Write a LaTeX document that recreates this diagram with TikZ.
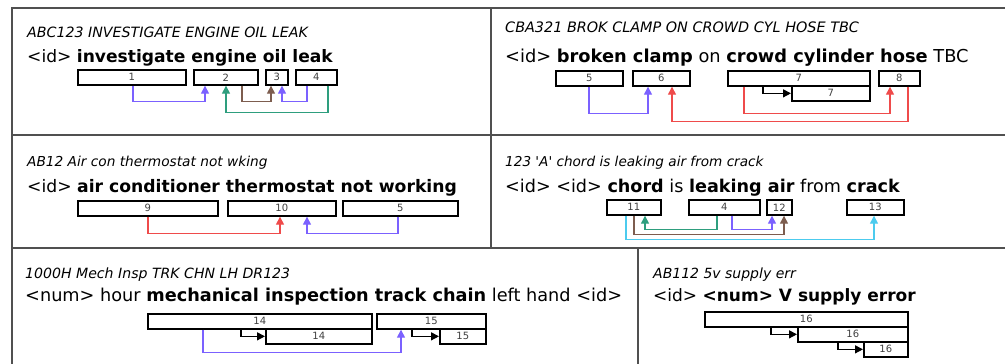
\documentclass[tikz,border=0pt]{standalone}
\usepackage{fontspec}
\setmainfont{DejaVu Sans}
\newfontfamily\qf{DejaVu Sans}
\usetikzlibrary{arrows.meta}
\definecolor{pur}{HTML}{7B61FF}
\definecolor{grn}{HTML}{2E9E7E}
\definecolor{brn}{HTML}{7D5D4F}
\definecolor{rd}{HTML}{EF4B4B}
\definecolor{cyn}{HTML}{4CCBEE}
\definecolor{frame}{HTML}{505050}
\begin{document}
\begin{tikzpicture}[x=1pt,y=-1pt,
  box/.style={draw=black, line width=1.7pt, inner sep=0pt, anchor=north west,
    font=\fontsize{10}{10}\selectfont, text=black!75},
  conn/.style={line width=1.4pt, -{Triangle[length=8pt,width=8pt]}},
  ttl/.style={inner sep=0pt, anchor=base west, font=\fontsize{#1}{#1}\selectfont\itshape},
  ttl/.default=14,
  mainline/.style={inner sep=0pt, anchor=base west, font=\fontsize{#1}{#1}\selectfont},
  mainline/.default=17,
  grid/.style={draw=frame, line width=1.4pt}]
\useasboundingbox (0,0) rectangle (1005,364);
\fill[white] (0,0) rectangle (1005,364);
% frame
\draw[grid] (12,364) -- (12,8) -- (1005,8);
\draw[grid] (12,135) -- (1005,135);
\draw[grid] (12,248) -- (1005,248);
\draw[grid] (491,8) -- (491,248);
\draw[grid] (638,248) -- (638,364);

% ---------- panel 1
\node[ttl=14.2] (t1) at (27,37) {ABC123 INVESTIGATE ENGINE OIL LEAK};
\node[mainline=17.1] (m1) at (27,62) {<id> \textbf{investigate engine oil leak}};
\node[box, minimum width=108pt, minimum height=15pt] (b1) at (77,69) {1};
\node[box, minimum width=64pt, minimum height=15pt] (b2) at (193,69) {2};
\node[box, minimum width=22pt, minimum height=15pt] (b3) at (265,69) {3};
\node[box, minimum width=41pt, minimum height=15pt] (b4) at (295,69) {4};
\draw[conn,pur] ([xshift=56pt]b1.south west) -- ++(0,16) -| ([xshift=12pt]b2.south west);
\draw[conn,grn] ([xshift=33pt]b4.south west) -- ++(0,27) -| ([xshift=33pt]b2.south west);
\draw[conn,brn] ([xshift=49pt]b2.south west) -- ++(0,16) -| ([xshift=6pt]b3.south west);
\draw[conn,pur] ([xshift=12pt]b4.south west) -- ++(0,16) -| ([xshift=17pt]b3.south west);

% ---------- panel 2
\node[ttl=14.4] (t2) at (505,32) {CBA321 BROK CLAMP ON CROWD CYL HOSE TBC};
\node[mainline=17.8] (m2) at (505,62) {<id> \textbf{broken clamp} on \textbf{crowd cylinder hose} TBC};
\node[box, minimum width=67pt, minimum height=15pt] (b5) at (555,70) {5};
\node[box, minimum width=57pt, minimum height=15pt] (b6) at (632,70) {6};
\node[box, minimum width=142pt, minimum height=15pt] (b7) at (727,70) {7};
\node[box, minimum width=78pt, minimum height=15pt] (b7b) at (791,85) {7};
\node[box, minimum width=41pt, minimum height=15pt] (b8) at (878,70) {8};
\draw[conn,pur] ([xshift=34pt]b5.south west) -- ++(0,27) -| ([xshift=16pt]b6.south west);
\draw[conn,rd] ([xshift=30pt]b8.south west) -- ++(0,35) -| ([xshift=40pt]b6.south west);
\draw[conn,rd] ([xshift=17pt]b7.south west) -- ++(0,27) -| ([xshift=12pt]b8.south west);
\draw[conn,black] ([xshift=36pt]b7.south west) |- (b7b.west);

% ---------- panel 3
\node[ttl=13.7] (t3) at (27,166) {AB12 Air con thermostat not wking};
\node[mainline=17.2] (m3) at (27,192) {<id> \textbf{air conditioner thermostat not working}};
\node[box, minimum width=140pt, minimum height=15pt] (b9) at (77,200) {9};
\node[box, minimum width=108pt, minimum height=15pt] (b10) at (227,200) {10};
\node[box, minimum width=115pt, minimum height=15pt] (b5x) at (342,200) {5};
\draw[conn,rd] ([xshift=71pt]b9.south west) -- ++(0,17) -| ([xshift=53pt]b10.south west);
\draw[conn,pur] ([xshift=56pt]b5x.south west) -- ++(0,17) -| ([xshift=80pt]b10.south west);

% ---------- panel 4
\node[ttl=13.6] (t4) at (505,166) {123 {\qf'}A{\qf'} chord is leaking air from crack};
\node[mainline=17.6] (m4) at (505,192) {<id> <id> \textbf{chord} is \textbf{leaking air} from \textbf{crack}};
\node[box, minimum width=54pt, minimum height=15pt] (b11) at (606,199) {11};
\node[box, minimum width=71pt, minimum height=15pt] (b4x) at (688,199) {4};
\node[box, minimum width=25pt, minimum height=15pt] (b12) at (766,199) {12};
\node[box, minimum width=57pt, minimum height=15pt] (b13) at (846,199) {13};
\draw[conn,grn] ([xshift=29pt]b4x.south west) -- ++(0,14) -| ([xshift=39pt]b11.south west);
\draw[conn,pur] ([xshift=44pt]b4x.south west) -- ++(0,14) -| ([xshift=6pt]b12.south west);
\draw[conn,brn] ([xshift=28pt]b11.south west) -- ++(0,19) -| ([xshift=18pt]b12.south west);
\draw[conn,cyn] ([xshift=20pt]b11.south west) -- ++(0,24) -| ([xshift=28pt]b13.south west);

% ---------- panel 5
\node[ttl=14.1] (t5) at (25,278) {1000H Mech Insp TRK CHN LH DR123};
\node[mainline=17.7] (m5) at (25,301) {<num> hour \textbf{mechanical inspection track chain} left hand <id>};
\node[box, minimum width=224pt, minimum height=15pt] (b14) at (147,313) {14};
\node[box, minimum width=106pt, minimum height=15pt] (b14b) at (265,328) {14};
\node[box, minimum width=109pt, minimum height=15pt] (b15) at (376,313) {15};
\node[box, minimum width=46pt, minimum height=15pt] (b15b) at (439,328) {15};
\draw[conn,pur] ([xshift=56pt]b14.south west) -- ++(0,23) -| ([xshift=25pt]b15.south west);
\draw[conn,black] ([xshift=94pt]b14.south west) |- (b14b.west);
\draw[conn,black] ([xshift=36pt]b15.south west) |- (b15b.west);

% ---------- panel 6
\node[ttl] (t6) at (653,278) {AB112 5v supply err};
\node[mainline] (m6) at (653,301) {<id> \textbf{<num> V supply error}};
\node[box, minimum width=203pt, minimum height=15pt] (b16) at (704,311) {16};
\node[box, minimum width=110pt, minimum height=15pt] (b16b) at (797,326) {16};
\node[box, minimum width=44pt, minimum height=15pt] (b16c) at (863,341) {16};
\draw[conn,black] ([xshift=67pt]b16.south west) |- (b16b.west);
\draw[conn,black] ([xshift=41pt]b16b.south west) |- (b16c.west);
\end{tikzpicture}
\end{document}
